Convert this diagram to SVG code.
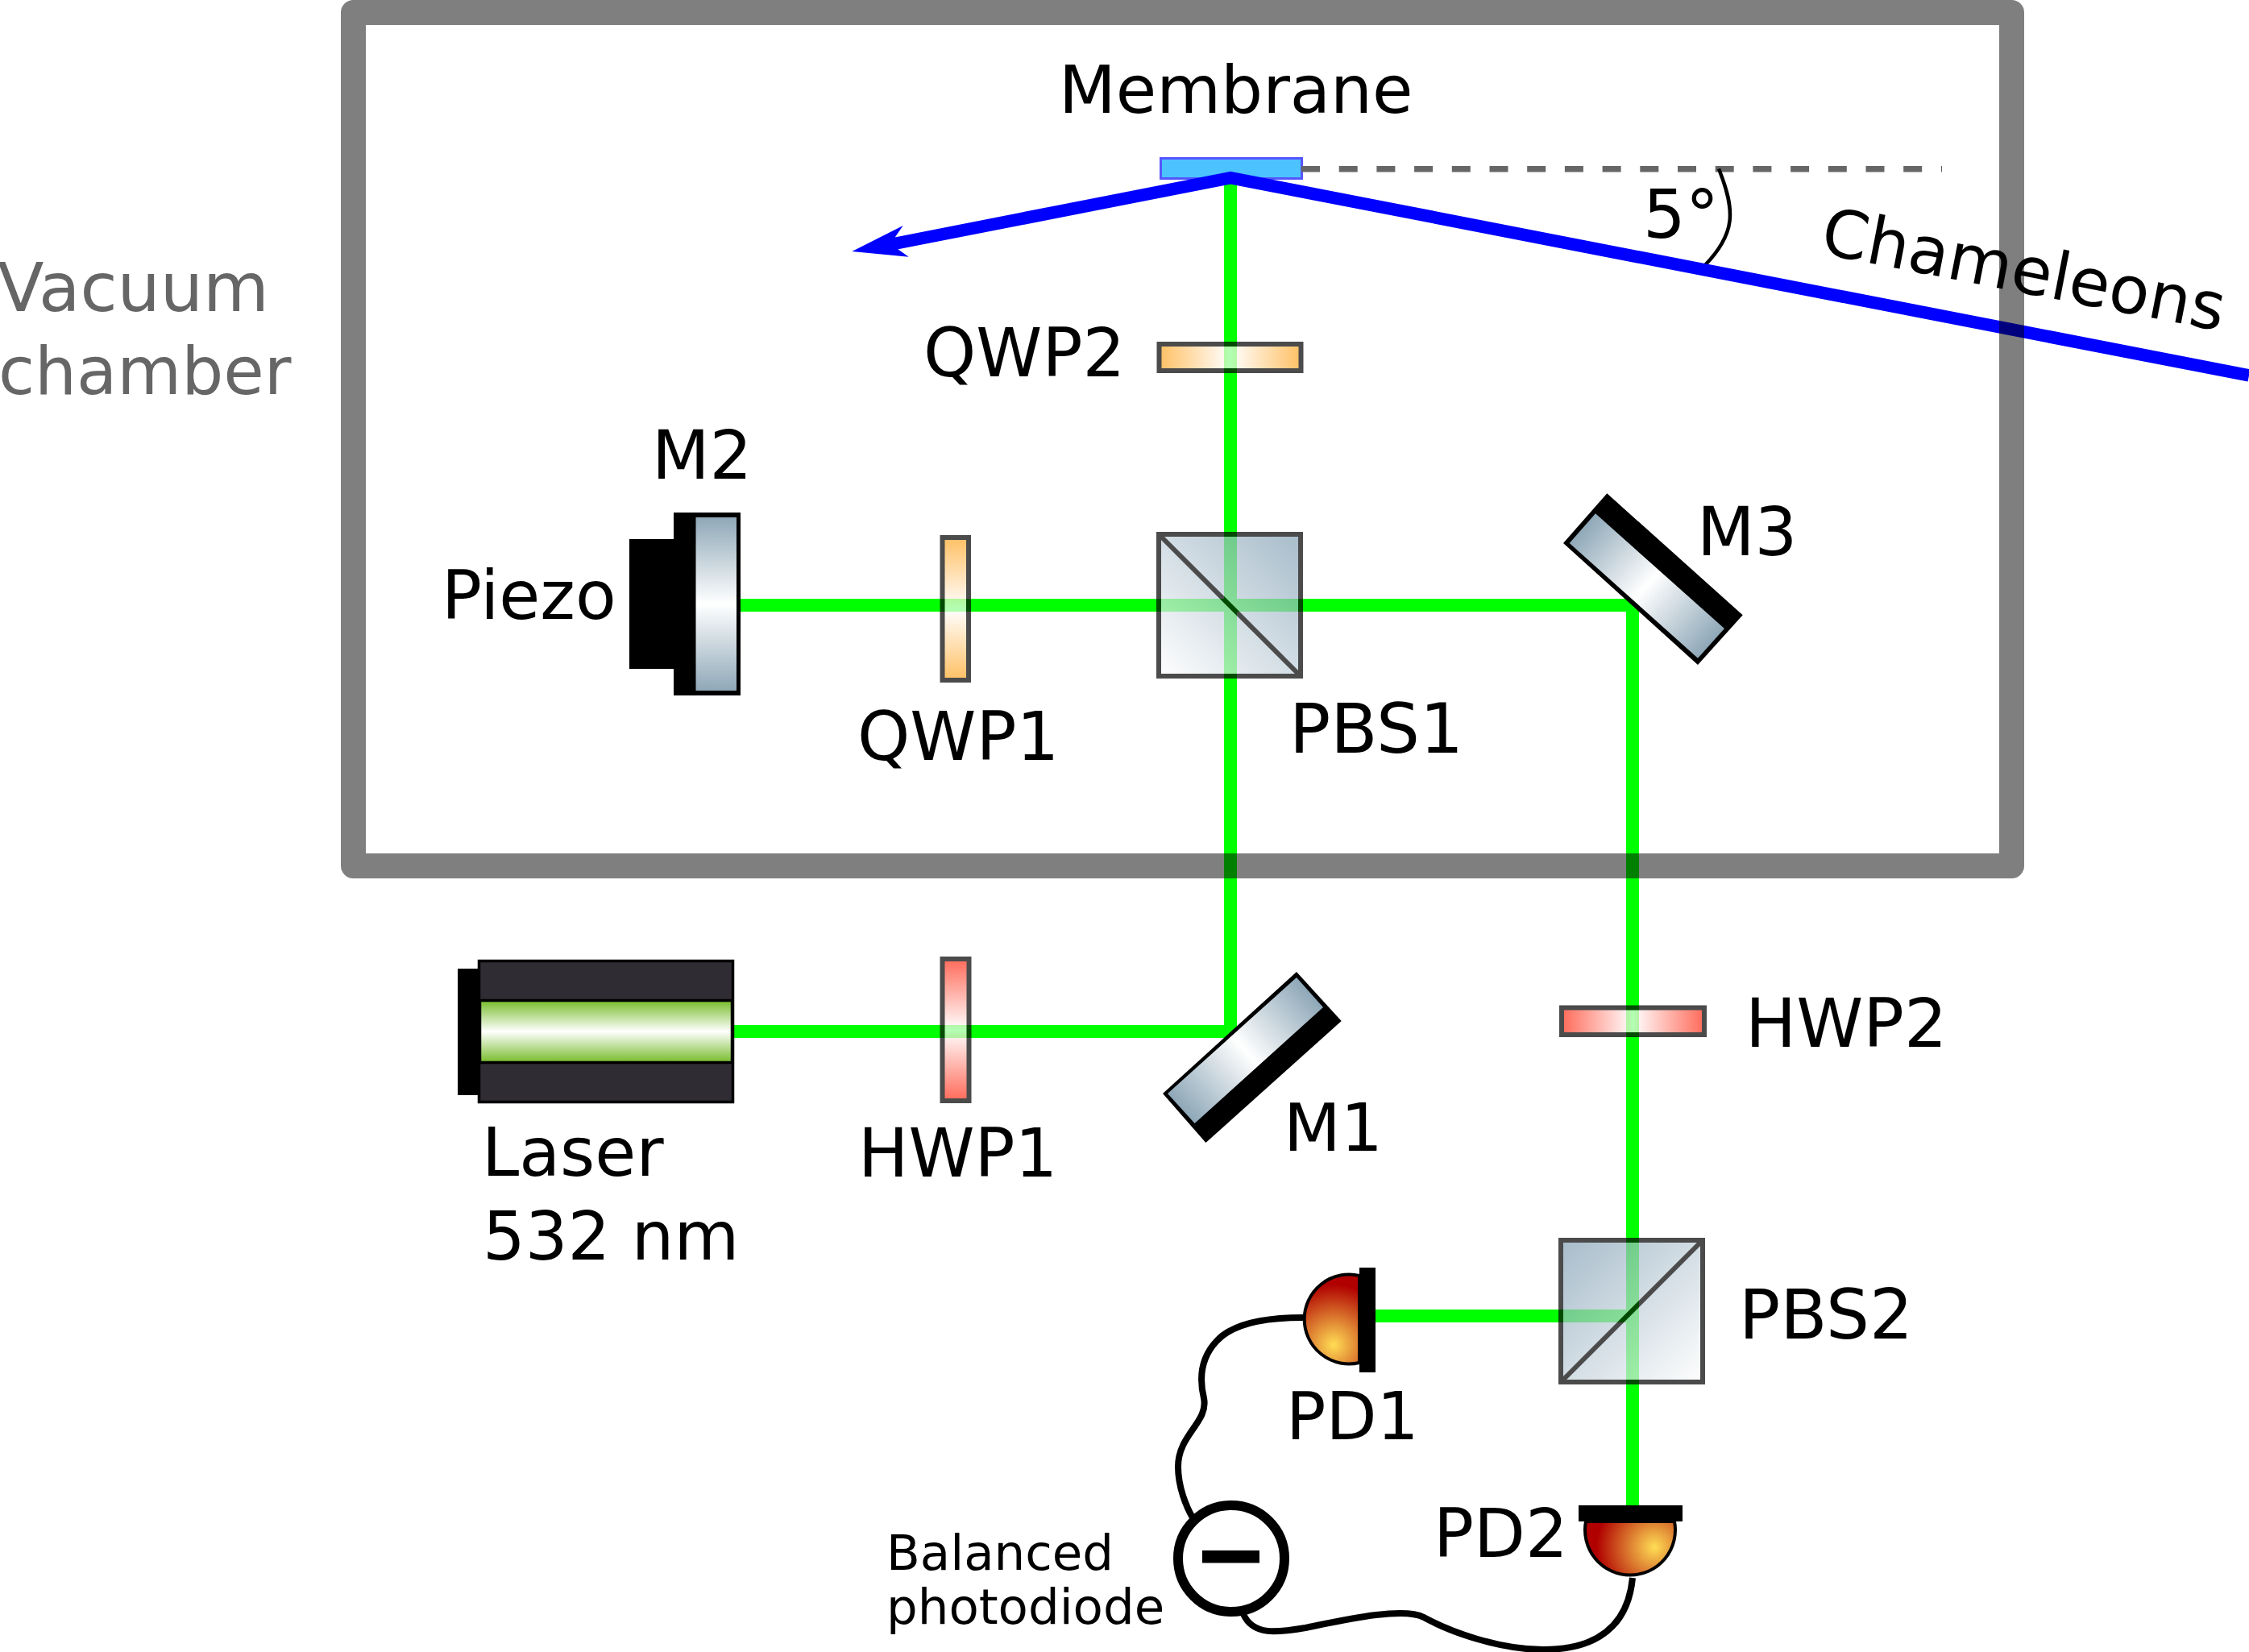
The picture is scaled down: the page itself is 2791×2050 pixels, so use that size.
<svg xmlns="http://www.w3.org/2000/svg" width="2791" height="2050" viewBox="0 0 2791 2050">
<style>
text{font-family:"DejaVu Sans",sans-serif;font-size:83px;fill:#000}
.beam{fill:none;stroke:#0f0;stroke-width:16}
.blue{fill:none;stroke:#00f;stroke-width:15.5}
.wire{fill:none;stroke:#000;stroke-width:8}
.optic{opacity:.7;stroke:#000;stroke-width:6}
</style>
<defs>
<linearGradient id="qh"><stop offset="0" stop-color="#ffa623"/><stop offset=".5" stop-color="#fff"/><stop offset="1" stop-color="#ffa623"/></linearGradient>
<linearGradient id="qv" x2="0" y2="1"><stop offset="0" stop-color="#ffa623"/><stop offset=".5" stop-color="#fff"/><stop offset="1" stop-color="#ffa623"/></linearGradient>
<linearGradient id="hh"><stop offset="0" stop-color="#ff2c14"/><stop offset=".5" stop-color="#fff"/><stop offset="1" stop-color="#ff2c14"/></linearGradient>
<linearGradient id="hv" x2="0" y2="1"><stop offset="0" stop-color="#ff2c14"/><stop offset=".5" stop-color="#fff"/><stop offset="1" stop-color="#ff2c14"/></linearGradient>
<linearGradient id="m2f" x2="0" y2="1"><stop offset="0" stop-color="#8fa8b8"/><stop offset=".5" stop-color="#fff"/><stop offset="1" stop-color="#8fa8b8"/></linearGradient>
<linearGradient id="m3f" gradientUnits="userSpaceOnUse" x1="1964" y1="655" x2="2123" y2="798"><stop offset="0" stop-color="#8fa8b8"/><stop offset=".5" stop-color="#fff"/><stop offset="1" stop-color="#8fa8b8"/></linearGradient>
<linearGradient id="m1f" gradientUnits="userSpaceOnUse" x1="1625" y1="1232" x2="1466" y2="1375"><stop offset="0" stop-color="#8fa8b8"/><stop offset=".5" stop-color="#fff"/><stop offset="1" stop-color="#8fa8b8"/></linearGradient>
<linearGradient id="pb1" x1="0" y1="1" x2="1" y2="0"><stop offset="0" stop-color="#fff"/><stop offset="1" stop-color="#82a0b4"/></linearGradient>
<linearGradient id="pb2" x1="1" y1="1" x2="0" y2="0"><stop offset="0" stop-color="#fff"/><stop offset="1" stop-color="#82a0b4"/></linearGradient>
<linearGradient id="lg" x2="0" y2="1"><stop offset="0" stop-color="#76bc2a"/><stop offset=".5" stop-color="#fff"/><stop offset="1" stop-color="#76bc2a"/></linearGradient>
<radialGradient id="pd1g" gradientUnits="userSpaceOnUse" cx="1655" cy="1669" r="75"><stop offset="0" stop-color="#ffdd55"/><stop offset="1" stop-color="#b00000"/></radialGradient>
<radialGradient id="pd2g" gradientUnits="userSpaceOnUse" cx="2053" cy="1920" r="72"><stop offset="0" stop-color="#ffdd55"/><stop offset="1" stop-color="#b00000"/></radialGradient>
</defs>
<g id="connectors">
<path class="beam" d="M918 751H2026V1868"/>
<path class="beam" d="M911 1280H1527V225"/>
<path class="beam" d="M1707 1633H2026"/>
<path class="wire" d="M1617 1635C1570 1635 1530 1642 1510 1664C1490 1685 1488 1710 1494 1735C1500 1765 1462 1780 1462 1820C1462 1845 1472 1870 1481 1885"/>
<path class="wire" d="M2026 1958C2022 2000 2000 2047 1915 2047C1860 2047 1800 2025 1767 2007C1740 1993 1660 2012 1620 2020C1585 2026 1555 2030 1543 2003"/>
</g>
<g id="membrane">
<rect x="1440.5" y="196.5" width="175" height="25" fill="#4cc3ff" stroke="#5555ff" stroke-width="3"/>
<text x="1314" y="140" style="font-size:82px">Membrane</text>
</g>
<g id="angle">
<path d="M1615 209.7H2410" fill="none" stroke="#666" stroke-width="7.5" stroke-dasharray="23 23.7"/>
<path d="M2133 209.5C2154 262 2154 290 2115 330" fill="none" stroke="#000" stroke-width="4.5"/>
<text x="2039" y="295">5°</text>
</g>
<g id="chameleons">
<path class="blue" d="M2791 466L1527 220.6L1112 302"/>
<path fill="#00f" d="M1057.3 312L1120.7 280L1111 294L1114 309L1127.7 318.7Z"/>
<text transform="translate(2257 314) rotate(11)" style="font-size:82px">Chameleons</text>
</g>
<g id="qwp2"><rect class="optic" x="1438.5" y="427" width="176" height="33" fill="url(#qh)"/><text x="1146" y="467">QWP2</text></g>
<g id="qwp1"><rect class="optic" x="1169.5" y="667" width="32.5" height="177" fill="url(#qv)"/><text x="1064" y="943">QWP1</text></g>
<g id="pbs1"><g class="optic"><rect x="1438" y="663" width="176" height="176" fill="url(#pb1)"/><path d="M1438 663L1614 839" fill="none"/></g><text x="1600" y="934" style="font-size:85px">PBS1</text></g>
<g id="m2">
<rect x="781" y="669" width="56" height="161"/>
<rect x="836" y="636" width="83" height="227"/>
<rect x="863.5" y="642" width="50.5" height="215" fill="url(#m2f)"/>
<text x="809" y="594">M2</text>
</g>
<g id="piezo"><text x="548" y="768">Piezo</text></g>
<g id="m3">
<path d="M1994.3 612.3L2162.7 763.3L2107 825L1940 674Z"/>
<path d="M1980 637.3L2140 780L2107 816.7L1947.7 674Z" fill="url(#m3f)"/>
<text x="2106" y="689">M3</text>
</g>
<g id="laser">
<rect x="568" y="1202" width="26" height="157"/>
<rect x="594.5" y="1192.5" width="315" height="175" fill="#302c33" stroke="#000" stroke-width="3.5"/>
<rect x="595.5" y="1241.5" width="313" height="77" fill="url(#lg)" stroke="#000" stroke-width="3.5"/>
<text x="598" y="1459">Laser</text>
<text x="599" y="1563">532 nm</text>
</g>
<g id="hwp1"><rect class="optic" x="1169.5" y="1190" width="33" height="176" fill="url(#hv)"/><text x="1065" y="1460">HWP1</text></g>
<g id="m1">
<path d="M1609 1206L1664.7 1267L1496.4 1418L1443 1357Z"/>
<path d="M1609 1213L1642 1250L1482.6 1394L1449 1357Z" fill="url(#m1f)"/>
<text x="1593" y="1428" style="font-size:82px">M1</text>
</g>
<g id="hwp2"><rect class="optic" x="1938" y="1250.5" width="177" height="33.5" fill="url(#hh)"/><text x="2166" y="1299" style="font-size:84px">HWP2</text></g>
<g id="pbs2"><g class="optic"><rect x="1937" y="1539" width="176" height="176" fill="url(#pb2)"/><path d="M1937 1715L2113 1539" fill="none"/></g><text x="2158" y="1661" style="font-size:85px">PBS2</text></g>
<g id="pd1">
<path d="M1687 1583A55.5 55.5 0 1 0 1687 1691Z" fill="url(#pd1g)" stroke="#000" stroke-width="4"/>
<rect x="1687" y="1573" width="20" height="130"/>
<text x="1596" y="1786" style="font-size:82px">PD1</text>
</g>
<g id="pd2">
<path d="M1968 1888A56 56 0 1 0 2078 1888Z" fill="url(#pd2g)" stroke="#000" stroke-width="4"/>
<rect x="1959" y="1868" width="129" height="20"/>
<text x="1779" y="1932">PD2</text>
</g>
<g id="balanced">
<circle cx="1528" cy="1934" r="66" fill="#fff" stroke="#000" stroke-width="12"/>
<rect x="1492" y="1924" width="71" height="15.5"/>
<text x="1100" y="1948" style="font-size:61px">Balanced</text>
<text x="1100" y="2015" style="font-size:61px">photodiode</text>
</g>
<g id="chamber">
<rect x="438.5" y="15.5" width="2058" height="1059" fill="none" stroke="#000" stroke-opacity=".5" stroke-width="31" stroke-linejoin="round"/>
<text x="-3" y="386" style="fill:#666;font-size:84px">Vacuum</text>
<text x="-2" y="489" style="fill:#666;font-size:82px">chamber</text>
</g>
</svg>
